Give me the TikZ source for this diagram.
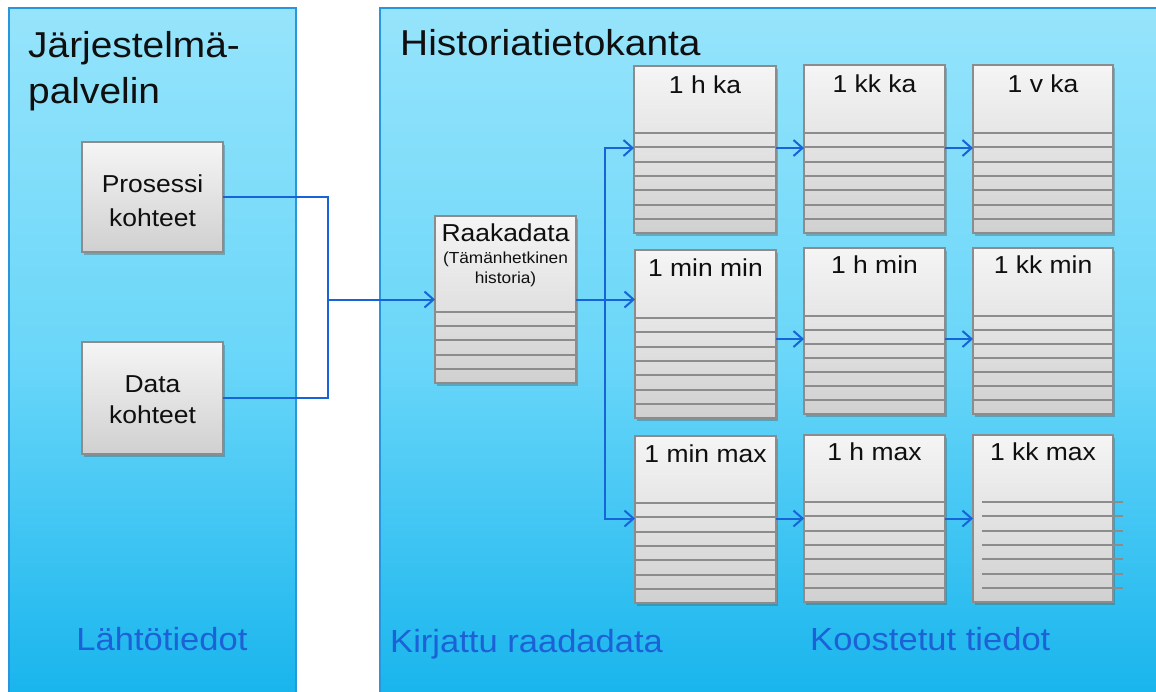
\documentclass[tikz,border=0pt]{standalone}
\usepackage{fontspec}
\setmainfont{Liberation Sans}
\usetikzlibrary{arrows.meta,shadows,calc}
\definecolor{panelTop}{RGB}{150,228,251}
\definecolor{panelMid}{RGB}{105,214,249}
\definecolor{panelBot}{RGB}{18,178,236}
\definecolor{panelBorder}{RGB}{40,150,220}
\definecolor{boxTop}{RGB}{245,245,245}
\definecolor{boxBot}{RGB}{208,208,208}
\definecolor{boxBorder}{RGB}{140,140,140}
\definecolor{arrowBlue}{RGB}{22,100,216}
\definecolor{labelBlue}{RGB}{28,98,214}
\definecolor{textBlack}{RGB}{15,15,15}
\newcommand\hs[1]{\scalebox{1.08}[1]{#1}}
\begin{document}
\begin{tikzpicture}[x=1pt,y=-1pt,
  panel/.style={draw=panelBorder, line width=1.2pt, top color=panelTop, bottom color=panelBot, middle color=panelMid},
  dbox/.style={draw=boxBorder, line width=1.6pt, top color=boxTop, bottom color=boxBot,
    inner sep=0pt, outer sep=0pt, anchor=north west,
    drop shadow={shadow xshift=1.5pt, shadow yshift=-2.5pt, opacity=0.35, fill=black!70}},
  rowline/.style={draw=boxBorder, line width=1.8pt},
  conn/.style={draw=arrowBlue, line width=2pt},
  arr/.style={conn, -{Straight Barb[length=9pt,width=16pt,line width=2pt]}},
  bigttl/.style={font=\fontsize{36}{43}\selectfont, text=textBlack, anchor=base west, inner sep=0pt},
  bttl/.style={font=\fontsize{24.5}{29}\selectfont, text=textBlack, anchor=base, inner sep=0pt},
  smallttl/.style={font=\fontsize{16}{19}\selectfont, text=textBlack, anchor=base, inner sep=0pt},
  lbl/.style={font=\fontsize{32}{38}\selectfont, text=labelBlue, inner sep=0pt},
]
\clip (0,0) rectangle (1156,691);
\fill[white] (0,0) rectangle (1156,691);

% panels
\path[panel] (9,8) rectangle (296,720);
\path[panel] (380,8) rectangle (1180,720);

% titles
\node[bigttl] (t1) at (28,57) {\hs{Järjestelmä-}};
\node[bigttl] (t2) at (28,103) {\hs{palvelin}};
\node[bigttl] (t3) at (400,55) {\hs{Historiatietokanta}};

% source boxes
\node[dbox, minimum width=141pt, minimum height=110pt] (pros) at (82,142) {};
\node[dbox, minimum width=141pt, minimum height=112pt] (data) at (82,342) {};
\node[bttl] (prost1) at (152.5,192) {\hs{Prosessi}};
\node[bttl] (prost2) at (152.5,226) {\hs{kohteet}};
\node[bttl] (datat1) at (152.5,392) {\hs{Data}};
\node[bttl] (datat2) at (152.5,423) {\hs{kohteet}};

% raw data box
\node[dbox, minimum width=141pt, minimum height=167pt] (raw) at (435,216) {};
\foreach \i in {0,...,4} {
  \pgfmathsetmacro\yy{round(312+\i*14.2)}
  \draw[rowline] (435,\yy) -- (576,\yy);
}
\node[bttl] (rawt1) at (505.5,241) {\hs{Raakadata}};
\node[smallttl] (rawt2) at (505.5,263) {\hs{(Tämänhetkinen}};
\node[smallttl] (rawt3) at (505.5,283) {\hs{historia)}};

% aggregated boxes
\node[dbox, minimum width=142pt, minimum height=167pt] (hka) at (634,66) {};
\node[dbox, minimum width=141pt, minimum height=168pt] (kkka) at (804,65) {};
\node[dbox, minimum width=140pt, minimum height=168pt] (vka) at (973,65) {};
\node[dbox, minimum width=141pt, minimum height=168pt] (minmin) at (635,250) {};
\node[dbox, minimum width=141pt, minimum height=166pt] (hmin) at (804,248) {};
\node[dbox, minimum width=140pt, minimum height=166pt] (kkmin) at (973,248) {};
\node[dbox, minimum width=141pt, minimum height=167pt] (minmax) at (635,436) {};
\node[dbox, minimum width=141pt, minimum height=167pt] (hmax) at (804,435) {};
\node[dbox, minimum width=140pt, minimum height=167pt] (kkmax) at (973,435) {};

\foreach \i in {0,...,6} {
  \pgfmathsetmacro\ya{round(133+\i*14.3)}
  \pgfmathsetmacro\yb{round(318+\i*14.3)}
  \pgfmathsetmacro\yc{round(316+\i*14)}
  \pgfmathsetmacro\yd{round(503+\i*14.3)}
  \pgfmathsetmacro\ye{round(502+\i*14.3)}
  \draw[rowline] (634,\ya) -- (776,\ya);
  \draw[rowline] (804,\ya) -- (945,\ya);
  \draw[rowline] (973,\ya) -- (1113,\ya);
  \draw[rowline] (635,\yb) -- (776,\yb);
  \draw[rowline] (804,\yc) -- (945,\yc);
  \draw[rowline] (973,\yc) -- (1113,\yc);
  \draw[rowline] (635,\yd) -- (776,\yd);
  \draw[rowline] (804,\ye) -- (945,\ye);
  \draw[rowline] (982,\ye) -- (1123,\ye);
}

\node[bttl] (hkat) at (705,93) {\hs{1 h ka}};
\node[bttl] (kkkat) at (874.5,92) {\hs{1 kk ka}};
\node[bttl] (vkat) at (1043,92) {\hs{1 v ka}};
\node[bttl] (minmint) at (705.5,276) {\hs{1 min min}};
\node[bttl] (hmint) at (874.5,273) {\hs{1 h min}};
\node[bttl] (kkmint) at (1043,273) {\hs{1 kk min}};
\node[bttl] (minmaxt) at (705.5,462) {\hs{1 min max}};
\node[bttl] (hmaxt) at (874.5,460) {\hs{1 h max}};
\node[bttl] (kkmaxt) at (1043,460) {\hs{1 kk max}};

% connectors
\coordinate (j1) at (328,299.5);
\draw[conn] (pros.east) -| (j1);
\draw[conn] (data.east) -| (j1);
\draw[arr] (j1) -- (raw.west |- j1);

\coordinate (bus) at (605,299.5);
\coordinate (r1) at (0,148);
\coordinate (r2) at (0,339);
\coordinate (r3) at (0,518.5);
\draw[conn] (raw.east) -- (bus);
\draw[arr] (bus) |- (hka.west |- r1);
\draw[arr] (bus) -- (minmin.west |- bus);
\draw[arr] (bus) |- (minmax.west |- r3);

\draw[arr] (hka.east |- r1) -- (kkka.west |- r1);
\draw[arr] (kkka.east |- r1) -- (vka.west |- r1);
\draw[arr] (minmin.east |- r2) -- (hmin.west |- r2);
\draw[arr] (hmin.east |- r2) -- (kkmin.west |- r2);
\draw[arr] (minmax.east |- r3) -- (hmax.west |- r3);
\draw[arr] (hmax.east |- r3) -- (kkmax.west |- r3);

% bottom labels
\node[lbl, anchor=base] (l1) at (162,650) {\hs{Lähtötiedot}};
\node[lbl, anchor=base west] (l2) at (390,652) {\hs{Kirjattu raadadata}};
\node[lbl, anchor=base west] (l3) at (810,650) {\hs{Koostetut tiedot}};
\end{tikzpicture}
\end{document}
